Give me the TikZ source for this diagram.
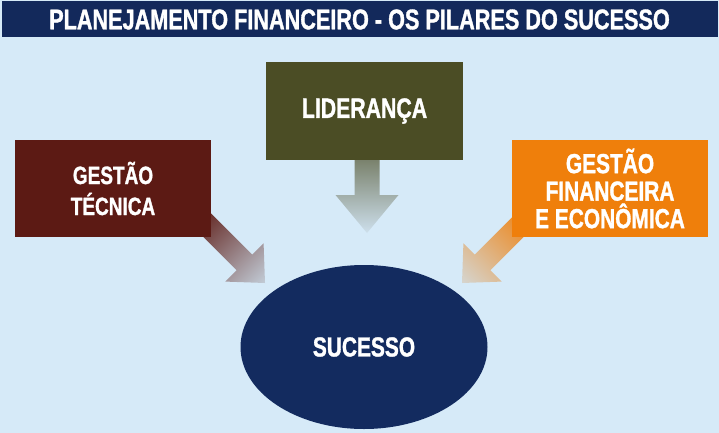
\documentclass[tikz,border=0pt]{standalone}
\usepackage{fontspec}
\setmainfont{Liberation Sans}[FakeStretch=0.76, BoldFeatures={FakeBold=1.2}]
\usetikzlibrary{shapes.geometric}

\definecolor{fundo}{HTML}{D6EAF8}
\definecolor{marinho}{HTML}{13295B}
\definecolor{oliva}{HTML}{4B4D25}
\definecolor{vinho}{HTML}{5C1A14}
\definecolor{laranja}{HTML}{EF7F0B}
\definecolor{azulsucesso}{HTML}{132B5F}

% block arrow: tip, angle, length, shaft half, head half, head length, colours
\newcommand{\pilarseta}[8]{%
  \begin{scope}[transform canvas={shift={(#1)}, rotate=#2}]
    \shade[left color=#7, right color=#8]
      (-#3,-#4) -- (-#6,-#4) -- (-#6,-#5) -- (0,0) -- (-#6,#5) -- (-#6,#4) -- (-#3,#4) -- cycle;
  \end{scope}}

\begin{document}
\begin{tikzpicture}[x=1pt, y=-1pt,
    caixa/.style={rectangle, inner sep=0pt, minimum width=196pt, minimum height=97pt,
      text=white, align=center}]
		% background
		\fill[fundo] (0,0) rectangle (719,433);
		\useasboundingbox (0,0) rectangle (719,433);

		% arrow tips
		\coordinate (pontaT) at (265,283);
		\coordinate (pontaL) at (367,233);
		\coordinate (pontaF) at (462,283);

		% arrows
		\pilarseta{pontaT}{-45}{100}{11}{27}{29}{vinho}{vinho!10!fundo!90!gray}
		\pilarseta{pontaL}{-90}{90}{12.5}{31.5}{38}{oliva!80!fundo}{fundo!90!gray}
		\pilarseta{pontaF}{-135}{100}{11}{27}{29}{laranja}{laranja!15!fundo!95!gray}

		% pillars
		\node[caixa, fill=vinho, font=\fontsize{25}{31}\selectfont\bfseries] (tecnica) at (113,188.5) {GESTÃO\\TÉCNICA};
		\node[caixa, fill=oliva, minimum width=197pt, minimum height=98pt, font=\fontsize{28}{30}\selectfont\bfseries] (lideranca) at (364.5,111) {LIDERANÇA};
		\node[caixa, fill=laranja, font=\fontsize{27.5}{27.5}\selectfont\bfseries] (financeira) at (610,188.5) {GESTÃO\\FINANCEIRA\\E ECONÔMICA};

		% result
		\node[ellipse, fill=azulsucesso, minimum width=247pt, minimum height=164pt, inner sep=0pt,
		  text=white, font=\fontsize{27.5}{30}\selectfont\bfseries] (sucesso) at (364,347) {SUCESSO};

		% title bar
		\node[fill=marinho, minimum width=716pt, minimum height=36pt, inner sep=0pt, text=white,
		  font=\fontsize{28.5}{30}\selectfont\bfseries] (titulo) at (359.5,19.5) {PLANEJAMENTO FINANCEIRO - OS PILARES DO SUCESSO};
\end{tikzpicture}
\end{document}
